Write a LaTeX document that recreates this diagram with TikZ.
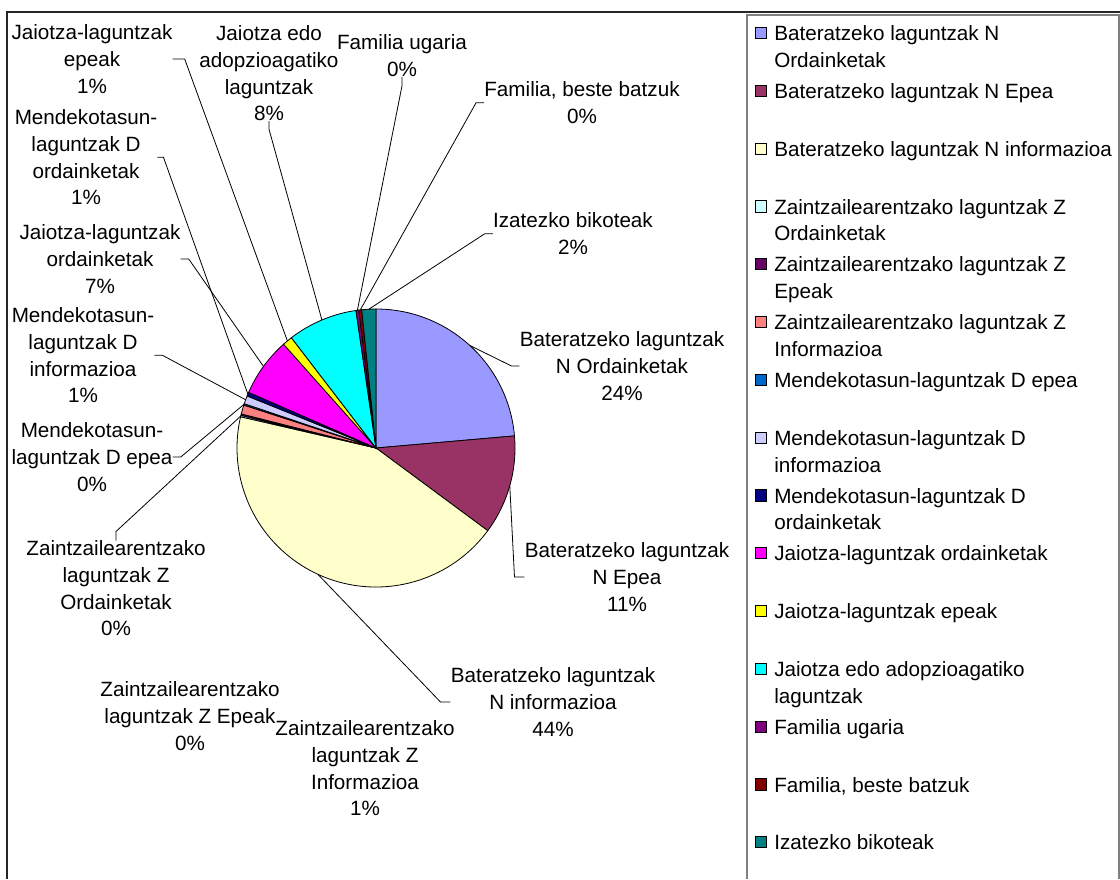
\documentclass[tikz,border=0pt]{standalone}
\usepackage{fontspec}
\setmainfont{Liberation Sans}
\definecolor{cNord}{HTML}{9999FF}
\definecolor{cNepea}{HTML}{993366}
\definecolor{cNinfo}{HTML}{FFFFCC}
\definecolor{cZord}{HTML}{CCFFFF}
\definecolor{cZepeak}{HTML}{660066}
\definecolor{cZinfo}{HTML}{FF8080}
\definecolor{cDepea}{HTML}{0066CC}
\definecolor{cDinfo}{HTML}{CCCCFF}
\definecolor{cDord}{HTML}{000080}
\definecolor{cJord}{HTML}{FF00FF}
\definecolor{cJepeak}{HTML}{FFFF00}
\definecolor{cJadop}{HTML}{00FFFF}
\definecolor{cFugaria}{HTML}{800080}
\definecolor{cFbeste}{HTML}{800000}
\definecolor{cIzatezko}{HTML}{008080}
\tikzset{
  lbl/.style={font=\fontsize{15.5}{20}\selectfont, align=center, anchor=north, inner sep=0pt},
  legtxt/.style={font=\fontsize{15.5}{20}\selectfont, align=left, anchor=north west, inner sep=0pt},
  swatch/.style={draw=black, line width=0.6pt, inner sep=0pt, minimum size=8.5pt},
  leader/.style={draw=black, line width=0.6pt}
}
\begin{document}
\begin{tikzpicture}[x=0.75pt,y=0.75pt,yscale=-1]
\useasboundingbox (0,0) rectangle (1120,879);

%Frame
\draw[line width=1pt, black!85] (7,879) -- (7,12) -- (1120,12);
%Legend box
\draw[line width=1pt, gray] (747,879) -- (747,15) -- (1119,15) -- (1119,879);

%Pie slices, clockwise from the top
\coordinate (pie) at (376,448);
\foreach \a/\b/\c in {-90/-5/cNord, -5/36.5/cNepea, 36.5/193/cNinfo, 193/193.6/cZord,
  193.6/194.2/cZepeak, 194.2/198/cZinfo, 198/198.6/cDepea, 198.6/202/cDinfo,
  202/203.6/cDord, 203.6/228.3/cJord, 228.3/232.5/cJepeak, 232.5/261.7/cJadop,
  261.7/262.9/cFugaria, 262.9/264.1/cFbeste, 264.1/270/cIzatezko}
  \filldraw[fill=\c, draw=black, line width=0.6pt] (pie) -- ++(\a:139) arc[start angle=\a, end angle=\b, radius=139] -- cycle;

%Rim points for the leaders
\foreach \n/\m in {nord/-47.5, nepea/15.75, ninfo/114.75, zord/193.3, depea/198.3,
  dinfo/200.3, dord/202.8, jord/215.95, jepeak/230.4, jadop/247.1,
  fugaria/262.3, fbeste/263.5, izatezko/267.05}
  \path (pie) ++(\m:139) coordinate (p-\n);

% Text Node
\node[lbl] (l-jepeak) at (92,24.5) {Jaiotza-laguntzak\\epeak\\1\%};
% Text Node
\node[lbl] (l-dord) at (86,109.5) {Mendekotasun-\\laguntzak D\\ordainketak\\1\%};
% Text Node
\node[lbl] (l-jord) at (100,224.5) {Jaiotza-laguntzak\\ordainketak\\7\%};
% Text Node
\node[lbl] (l-dinfo) at (83,307.5) {Mendekotasun-\\laguntzak D\\informazioa\\1\%};
% Text Node
\node[lbl] (l-depea) at (92,422.5) {Mendekotasun-\\laguntzak D epea\\0\%};
% Text Node
\node[lbl] (l-zord) at (116,540.5) {Zaintzailearentzako\\laguntzak Z\\Ordainketak\\0\%};
% Text Node
\node[lbl] (l-zepeak) at (190,681.5) {Zaintzailearentzako\\laguntzak Z Epeak\\0\%};
% Text Node
\node[lbl] (l-zinfo) at (365,720.5) {Zaintzailearentzako\\laguntzak Z\\Informazioa\\1\%};
% Text Node
\node[lbl] (l-jadop) at (269,25.5) {Jaiotza edo\\adopzioagatiko\\laguntzak\\8\%};
% Text Node
\node[lbl] (l-fugaria) at (402,34.5) {Familia ugaria\\0\%};
% Text Node
\node[lbl] (l-fbeste) at (582,81.5) {Familia, beste batzuk\\0\%};
% Text Node
\node[lbl] (l-izatezko) at (573,212.5) {Izatezko bikoteak\\2\%};
% Text Node
\node[lbl] (l-nord) at (622,331.5) {Bateratzeko laguntzak\\N Ordainketak\\24\%};
% Text Node
\node[lbl] (l-nepea) at (627,542.5) {Bateratzeko laguntzak\\N Epea\\11\%};
% Text Node
\node[lbl] (l-ninfo) at (553,667.5) {Bateratzeko laguntzak\\N informazioa\\44\%};

%Leaders
\draw[leader] (l-jepeak.east) -- ++(12,0) -- (p-jepeak);
\draw[leader] (l-dord.east) -- ++(6,0) -- (p-dord);
\draw[leader] (l-jord.east) -- ++(8,0) -- (p-jord);
\draw[leader] (l-dinfo.east) -- ++(8,0) -- (p-dinfo);
\draw[leader] (l-depea.east) -- ++(8,0) -- (p-depea);
\draw[leader] (l-zord.north) -- ++(0,-9) -- (p-zord);
\draw[leader] (l-jadop.south) -- ++(0,8) -- (p-jadop);
\draw[leader] (l-fugaria.south) -- ++(0,9) -- (p-fugaria);
\draw[leader] (l-fbeste.west) -- ++(-8,0) -- (p-fbeste);
\draw[leader] (l-izatezko.west) -- ++(-8,0) -- (p-izatezko);
\draw[leader] (l-nord.west) -- ++(-8,0) -- (p-nord);
\draw[leader] (l-nepea.west) -- ++(-10,0) -- (p-nepea);
\draw[leader] (l-ninfo.west) -- ++(-10,0) -- (p-ninfo);

%Legend
\foreach \i/\c/\t in {1/cNord/{Bateratzeko laguntzak N\\Ordainketak},
  2/cNepea/{Bateratzeko laguntzak N Epea},
  3/cNinfo/{Bateratzeko laguntzak N informazioa},
  4/cZord/{Zaintzailearentzako laguntzak Z\\Ordainketak},
  5/cZepeak/{Zaintzailearentzako laguntzak Z\\Epeak},
  6/cZinfo/{Zaintzailearentzako laguntzak Z\\Informazioa},
  7/cDepea/{Mendekotasun-laguntzak D epea},
  8/cDinfo/{Mendekotasun-laguntzak D\\informazioa},
  9/cDord/{Mendekotasun-laguntzak D\\ordainketak},
  10/cJord/{Jaiotza-laguntzak ordainketak},
  11/cJepeak/{Jaiotza-laguntzak epeak},
  12/cJadop/{Jaiotza edo adopzioagatiko\\laguntzak},
  13/cFugaria/{Familia ugaria},
  14/cFbeste/{Familia, beste batzuk},
  15/cIzatezko/{Izatezko bikoteak}}
{
  \pgfmathsetmacro\ly{33+57.8*(\i-1)}
  \node[swatch, fill=\c] (sw-\i) at (761,\ly) {};
  \node[legtxt] (leg-\i) at (774,\ly-7.5) {\t};
}

\end{tikzpicture}
\end{document}
